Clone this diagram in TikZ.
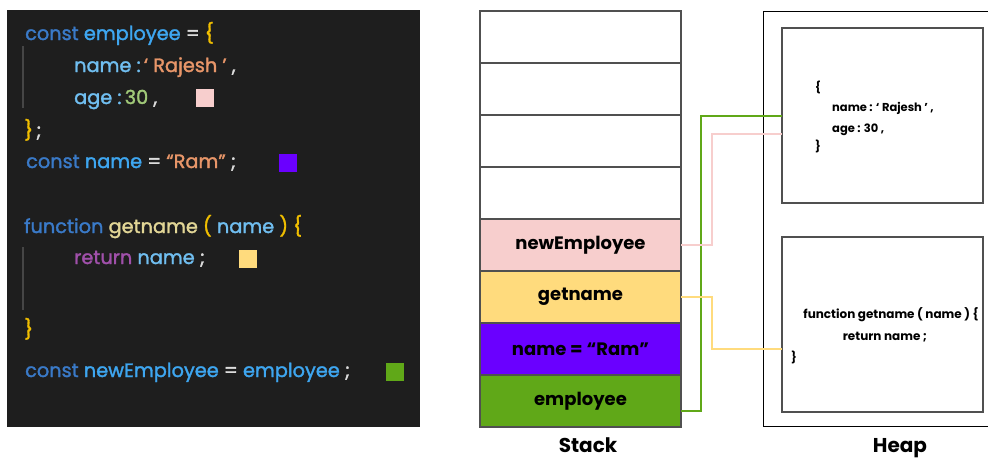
\documentclass[tikz,border=0pt]{standalone}
\usepackage{fontspec}
\setmainfont{Poppins}
\newfontfamily\codefont{Poppins}[FakeBold=1.6]
\usetikzlibrary{calc,positioning}
\definecolor{codebg}{RGB}{30,30,30}
\definecolor{codebar}{RGB}{70,70,70}
\definecolor{ckey}{RGB}{58,122,200}
\definecolor{cvar}{RGB}{62,166,240}
\definecolor{cprop}{RGB}{112,190,240}
\definecolor{cop}{RGB}{220,220,220}
\definecolor{cbr}{RGB}{240,190,0}
\definecolor{cstr}{RGB}{232,150,105}
\definecolor{cnum}{RGB}{160,200,120}
\definecolor{cfun}{RGB}{226,214,150}
\definecolor{cret}{RGB}{160,80,170}
\definecolor{refpink}{RGB}{247,206,205}
\definecolor{refyellow}{RGB}{255,219,125}
\definecolor{refpurple}{RGB}{106,0,255}
\definecolor{refgreen}{RGB}{96,168,24}
\definecolor{cellline}{RGB}{80,80,80}
\tikzset{
  codebox/.style={rectangle, fill=codebg, minimum width=413pt, minimum height=417pt, inner sep=0pt},
  cline/.style  ={anchor=base west, inner sep=0pt, font=\fontsize{19.3}{22}\codefont},
  cmark/.style  ={rectangle, minimum size=18pt, inner sep=0pt},
  scell/.style  ={rectangle, draw=cellline, line width=1.3pt, fill=white, outer sep=0pt,
                  minimum width=201pt, minimum height=52pt, inner sep=0pt,
                  font=\fontsize{18}{22}\selectfont\bfseries},
  hbox/.style   ={rectangle, draw=cellline, line width=1.2pt, outer sep=0pt,
                  minimum width=201pt, minimum height=175pt, inner sep=0pt},
  htext/.style  ={inner sep=0pt, font=\fontsize{11.5}{14}\selectfont\bfseries},
  title/.style  ={anchor=base, inner sep=0pt, font=\fontsize{20}{24}\selectfont\bfseries},
  sref/.style   ={line width=2pt},
}

\begin{document}
\begin{tikzpicture}[x=1pt, y=-1pt]
\useasboundingbox (0,0) rectangle (988,459);
% code panel
\node[codebox] (code) at (213.5,218.5) {};
\fill[codebar] (21.5,46) rectangle (24,108);
\fill[codebar] (21.5,247) rectangle (24,310);
\node[cline] (c1) at (25,40)  {\textcolor{ckey}{const} \textcolor{cvar}{employee} \textcolor{cop}{=} \textcolor{cbr}{\{}};
\node[cline] (c2) at (74,72)  {\textcolor{cprop}{name :}\,\textcolor{cstr}{‘ Rajesh ’} \textcolor{cop}{,}};
\node[cline] (c3) at (74,104) {\textcolor{cprop}{age :}\,\textcolor{cnum}{30} \textcolor{cop}{,}};
\node[cline] (c4) at (24,137) {\textcolor{cbr}{\}}\,\textcolor{cop}{;}};
\node[cline] (c5) at (26,168) {\textcolor{ckey}{const} \textcolor{cvar}{name} \textcolor{cop}{=} \textcolor{cstr}{“Ram”} \textcolor{cop}{;}};
\node[cline] (c6) at (24,233) {\textcolor{ckey}{function} \textcolor{cfun}{getname} \textcolor{cbr}{(} \textcolor{cprop}{name} \textcolor{cbr}{) \{}};
\node[cline] (c7) at (74,264) {\textcolor{cret}{return} \textcolor{cprop}{name} \textcolor{cop}{;}};
\node[cline] (c8) at (24,336) {\textcolor{cbr}{\}}};
\node[cline] (c9) at (25,377) {\textcolor{ckey}{const} \textcolor{cvar}{newEmployee} \textcolor{cop}{=} \textcolor{cvar}{employee} \textcolor{cop}{;}};
\node[cmark, fill=refpink]   (m1) at (205,98)  {};
\node[cmark, fill=refpurple] (m2) at (288,163) {};
\node[cmark, fill=refyellow] (m3) at (248,259) {};
\node[cmark, fill=refgreen]  (m4) at (395,372) {};
% stack
\node[scell] (s1) at (580.5,37) {};
\node[scell, below=0pt of s1] (s2) {};
\node[scell, below=0pt of s2] (s3) {};
\node[scell, below=0pt of s3] (s4) {};
\node[scell, below=0pt of s4, fill=refpink]   (newemp) {newEmployee};
\node[scell, below=0pt of newemp, fill=refyellow] (getn) {getname};
\node[scell, below=0pt of getn, fill=refpurple]  (nram) {name = “Ram”};
\node[scell, below=0pt of nram, fill=refgreen]   (emp)  {employee};
\node[title] (stk) at (588,452) {Stack};
% heap
\draw[line width=1pt] (988,11) -| (763,426) -- (988,426);
\node[hbox] (obj) at (882.5,115.5) {};
\node[hbox] (fun) at (882.5,324.5) {};
\node[htext, anchor=base west] (o1) at (815,91)  {\{};
\node[htext, anchor=base west] (o2) at (832,111) {name : ‘ Rajesh ’ ,};
\node[htext, anchor=base west] (o3) at (832,132) {age : 30 ,};
\node[htext, anchor=base west] (o4) at (815,150) {\}};
\node[htext, anchor=base, font=\fontsize{12}{14}\selectfont\bfseries] (f1) at (891,318) {function getname ( name ) \{};
\node[htext, anchor=base, font=\fontsize{12}{14}\selectfont\bfseries] (f2) at (885,340) {return name ;};
\node[htext, anchor=base west] (f3) at (791,361) {\}};
\node[title] (hp) at (900,452) {Heap};
% references
\draw[sref, refgreen]  ([yshift=-10pt]emp.east) -- ++(20,0) |- (obj.west);
\draw[sref, refpink]   (newemp.east) -- ++(31,0) |- ([yshift=-18pt]obj.west);
\draw[sref, refyellow] (getn.east) -- ++(31,0) |- ([yshift=-24.5pt]fun.west);
\end{tikzpicture}
\end{document}
